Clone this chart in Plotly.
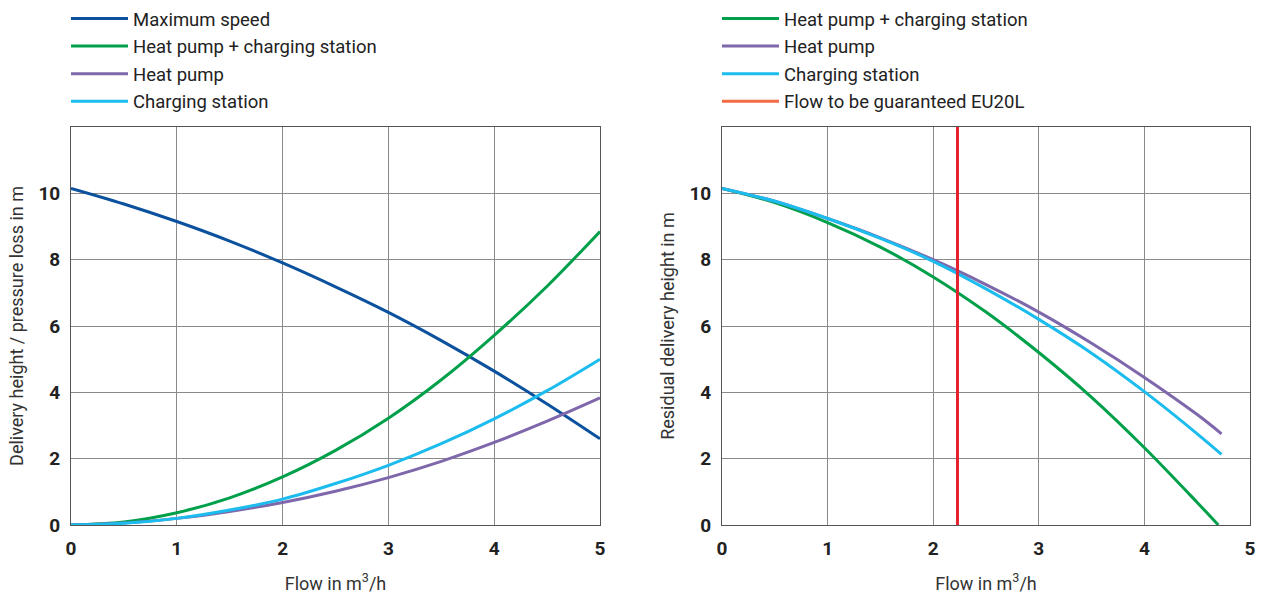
import plotly.graph_objects as go

# ---- Left chart data ----
x_left = [0, 0.5, 1, 1.5, 2, 2.5, 3, 3.5, 4, 4.5, 5]
max_speed = [10.15, 9.68, 9.15, 8.56, 7.9, 7.18, 6.41, 5.56, 4.64, 3.65, 2.6]
hp_cs_loss = [0, 0.09, 0.37, 0.82, 1.45, 2.25, 3.22, 4.38, 5.72, 7.2, 8.85]
hp_loss = [0, 0.06, 0.2, 0.41, 0.68, 1.02, 1.43, 1.92, 2.49, 3.13, 3.83]
cs_loss = [0, 0.05, 0.2, 0.45, 0.78, 1.25, 1.8, 2.45, 3.2, 4.05, 5.0]

# ---- Right chart data ----
x_right_green = [0, 0.5, 1, 1.5, 2, 2.5, 3, 3.5, 4, 4.5, 4.7]
hp_cs_resid = [10.15, 9.72, 9.12, 8.38, 7.48, 6.42, 5.2, 3.85, 2.33, 0.68, 0]
x_right = [0, 0.5, 1, 1.5, 2, 2.5, 3, 3.5, 4, 4.5, 4.73]
hp_resid = [10.15, 9.76, 9.24, 8.66, 8.0, 7.25, 6.42, 5.48, 4.45, 3.33, 2.75]
cs_resid = [10.15, 9.76, 9.24, 8.64, 7.95, 7.12, 6.2, 5.18, 4.02, 2.75, 2.13]
eu20l_flow = 2.23
eu20l_y = [0, 12]

x_ticks = [0, 1, 2, 3, 4, 5]
y_ticks = [0, 2, 4, 6, 8, 10]

C_BLUE = "#0b519d"
C_GREEN = "#00a04b"
C_PURPLE = "#7e67ab"
C_CYAN = "#1cbcee"
C_RED = "#e52330"
C_ORANGE = "#f26b43"

FONT = "Roboto"
LW = 3

fig = go.Figure()

def add(x, y, name, color, xa, ya, legend, group, showlegend=True):
    fig.add_trace(go.Scatter(
        x=x, y=y, name=name, mode="lines",
        line=dict(color=color, width=LW, shape="spline", smoothing=1.0),
        xaxis=xa, yaxis=ya, legend=legend, legendgroup=group,
        showlegend=showlegend, hoverinfo="skip"))

add(x_left, max_speed, "Maximum speed", C_BLUE, "x", "y", "legend", "l1")
add(x_left, hp_cs_loss, "Heat pump + charging station", C_GREEN, "x", "y", "legend", "l2")
add(x_left, hp_loss, "Heat pump", C_PURPLE, "x", "y", "legend", "l3")
add(x_left, cs_loss, "Charging station", C_CYAN, "x", "y", "legend", "l4")

add(x_right_green, hp_cs_resid, "Heat pump + charging station", C_GREEN, "x2", "y2", "legend2", "r1")
add(x_right, hp_resid, "Heat pump", C_PURPLE, "x2", "y2", "legend2", "r2")
add(x_right, cs_resid, "Charging station", C_CYAN, "x2", "y2", "legend2", "r3")
# vertical line (drawn red) and legend entry (orange)
fig.add_trace(go.Scatter(
    x=[eu20l_flow, eu20l_flow], y=eu20l_y, mode="lines",
    line=dict(color=C_RED, width=LW), xaxis="x2", yaxis="y2",
    showlegend=False, hoverinfo="skip"))
fig.add_trace(go.Scatter(
    x=[None], y=[None], mode="lines", name="Flow to be guaranteed EU20L",
    line=dict(color=C_ORANGE, width=LW), xaxis="x2", yaxis="y2",
    legend="legend2", legendgroup="r4"))

W, H = 1265, 598
ydom = [(H - 525) / H, (H - 127) / H]

axis_common = dict(
    showgrid=True, gridcolor="#8a8a8a", gridwidth=1,
    showline=True, linecolor="#555555", linewidth=1, mirror=True,
    zeroline=False, ticks="", automargin=False,
    tickfont=dict(family=FONT, size=19, color="#222222", weight="bold"),
    title_font=dict(family=FONT, size=18, color="#333333"),
)

legend_common = dict(
    font=dict(family=FONT, size=18.5, color="#222222"),
    bgcolor="rgba(0,0,0,0)", traceorder="grouped", tracegroupgap=0.5,
    xanchor="left", yanchor="top", itemwidth=57,
)

fig.update_layout(
    width=W, height=H,
    margin=dict(l=0, r=0, t=0, b=0),
    paper_bgcolor="white", plot_bgcolor="white",
    font=dict(family=FONT),
    xaxis=dict(domain=[71 / W, 600 / W], range=[0, 5], tickvals=x_ticks, ticklabelstandoff=6,
               title=dict(text="Flow in m<sup>3</sup>/h", standoff=18), anchor="y", **axis_common),
    yaxis=dict(domain=ydom, range=[0, 12], tickvals=y_ticks, ticklabelstandoff=6,
               title=dict(text="Delivery height / pressure loss in m", standoff=10), anchor="x", **axis_common),
    xaxis2=dict(domain=[722 / W, 1250 / W], range=[0, 5], tickvals=x_ticks, ticklabelstandoff=6,
                title=dict(text="Flow in m<sup>3</sup>/h", standoff=18), anchor="y2", **axis_common),
    yaxis2=dict(domain=ydom, range=[0, 12], tickvals=y_ticks, ticklabelstandoff=6,
                title=dict(text="Residual delivery height in m", standoff=10), anchor="x2", **axis_common),
    legend=dict(x=66 / W, y=1.0, **legend_common),
    legend2=dict(x=717 / W, y=1.0, **legend_common),
    showlegend=True,
)

fig.write_html("out.html", config={"displayModeBar": False},
               post_script="document.body.style.margin='0px';")
